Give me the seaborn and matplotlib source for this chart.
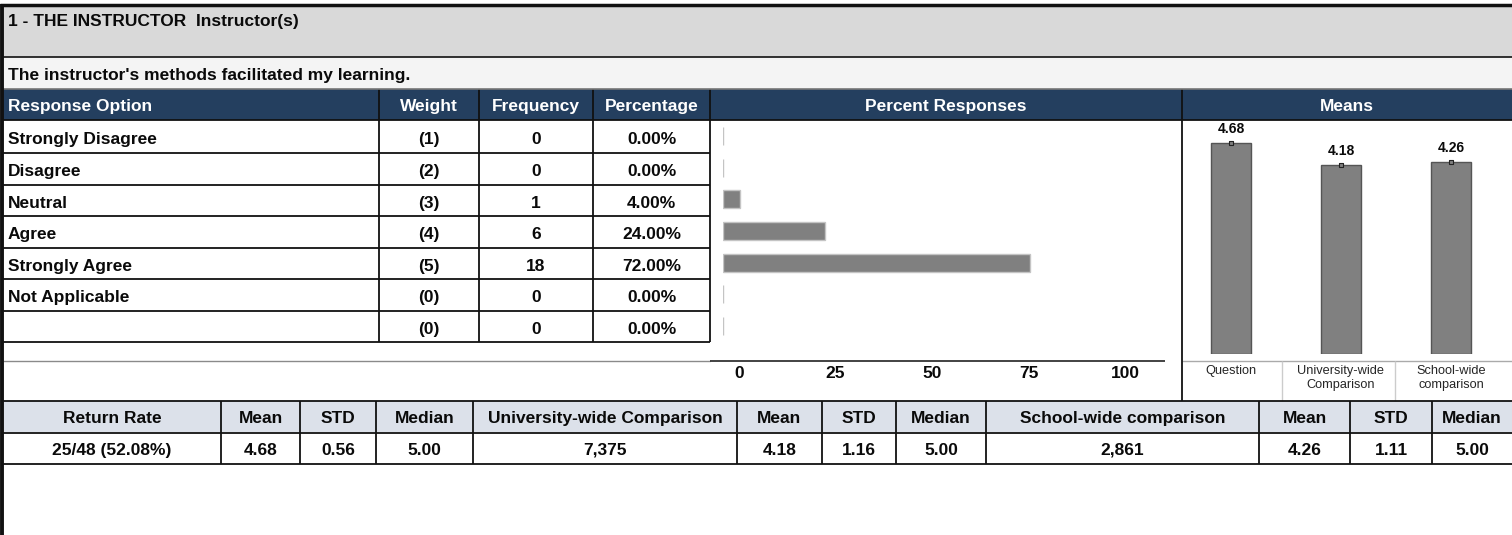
import matplotlib
matplotlib.use("Agg")
import matplotlib.pyplot as plt
import seaborn as sns
import numpy as np

# ---------------- data ----------------
section_title = "1 - THE INSTRUCTOR  Instructor(s)"
question = "The instructor's methods facilitated my learning."
header_labels = ["Response Option", "Weight", "Frequency", "Percentage", "Percent Responses", "Means"]
options = ["Strongly Disagree", "Disagree", "Neutral", "Agree", "Strongly Agree", "Not Applicable", ""]
weights = ["(1)", "(2)", "(3)", "(4)", "(5)", "(0)", "(0)"]
frequency = [0, 0, 1, 6, 18, 0, 0]
percentage = [0.0, 0.0, 4.0, 24.0, 72.0, 0.0, 0.0]
pct_ticks = [0, 25, 50, 75, 100]
mean_groups = ["Question", "University-wide\nComparison", "School-wide\ncomparison"]
means = [4.68, 4.18, 4.26]
summary_headers = ["Return Rate", "Mean", "STD", "Median", "University-wide Comparison",
                   "Mean", "STD", "Median", "School-wide comparison", "Mean", "STD", "Median"]
summary_values = ["25/48 (52.08%)", "4.68", "0.56", "5.00", "7,375",
                  "4.18", "1.16", "5.00", "2,861", "4.26", "1.11", "5.00"]

# ---------------- style ----------------
sns.set_style("white")
plt.rcParams["font.family"] = ["Liberation Sans", "DejaVu Sans"]

W, H = 1512, 535
NAVY = "#243f5f"
BAND = "#d9d9d9"
QROW = "#f4f4f4"
SUMH = "#dce1ea"
BAR = "#808080"
FS = 12.5
BOFF = 6.3  # baseline offset from row centre (px)

fig = plt.figure(figsize=(W / 100, H / 100), dpi=100)
fig.patch.set_facecolor("white")


def rect(x0, y0, x1, y1):
    return [x0 / W, 1 - y1 / H, (x1 - x0) / W, (y1 - y0) / H]


bg = fig.add_axes([0, 0, 1, 1])
bg.set_xlim(0, W)
bg.set_ylim(H, 0)
bg.axis("off")


def fill(x0, y0, x1, y1, c):
    bg.add_patch(plt.Rectangle((x0, y0), x1 - x0, y1 - y0, facecolor=c, edgecolor="none", zorder=0))


def hl(y, x0, x1, c="#111111", lw=1.3):
    bg.plot([x0, x1], [y, y], color=c, lw=lw, solid_capstyle="butt", zorder=2)


def vl(x, y0, y1, c="#111111", lw=1.3):
    bg.plot([x, x], [y0, y1], color=c, lw=lw, solid_capstyle="butt", zorder=2)


def txt(x, yc, s, ha="center", color="#0a0a0a"):
    bg.text(x, yc + BOFF, s, fontsize=FS, fontweight="bold", va="baseline", ha=ha, color=color, zorder=3)


# fills
fill(3, 5, W, 57, BAND)
fill(3, 57, W, 89, QROW)
fill(3, 89, W, 120, NAVY)
fill(3, 401, W, 432, SUMH)

# title rows
txt(8, 20, section_title, ha="left")
txt(8, 74, question, ha="left")

# header row
col_x = [3, 379, 479, 593, 710, 1182, W]
txt(8, 105, header_labels[0], ha="left", color="white")
for i in range(1, 6):
    txt((col_x[i] + col_x[i + 1]) / 2, 105, header_labels[i], color="white")

# response table
row_y = [120, 152.7, 184.5, 216, 247.5, 279, 310.5, 342]
for i, opt in enumerate(options):
    yc = (row_y[i] + row_y[i + 1]) / 2 + 1
    txt(8, yc, opt, ha="left")
    txt((col_x[1] + col_x[2]) / 2, yc, weights[i])
    txt((col_x[2] + col_x[3]) / 2, yc, str(frequency[i]))
    txt((col_x[3] + col_x[4]) / 2, yc, f"{percentage[i]:.2f}%")

for y in row_y[1:]:
    hl(y, 3, 710)
hl(361, 3, 710, c="#8a8a8a", lw=1.0)
hl(361, 710, 1165, c="#222222", lw=1.2)
hl(361, 1182, W, c="#aaaaaa", lw=1.0)
for x in col_x[1:5]:
    vl(x, 89, 342)
vl(1182, 89, 401)
vl(1282, 361, 401, c="#cccccc", lw=1.0)
vl(1395, 361, 401, c="#cccccc", lw=1.0)

# top lines
hl(5, 0, W, lw=2.5)
hl(57, 3, W, c="#222222", lw=1.3)
hl(89, 3, W, c="#777777", lw=1.2)
hl(120, 3, W, c="#111111", lw=1.3)

# summary table
sum_x = [3, 221, 300, 376, 473, 737, 822, 896, 986, 1259, 1350, 1432, W]
for i in range(len(summary_headers)):
    xc = (sum_x[i] + sum_x[i + 1]) / 2
    txt(xc, 417, summary_headers[i])
    txt(xc, 448.5, summary_values[i])
    if i > 0:
        vl(sum_x[i], 401, 464)
hl(401, 3, W)
hl(432.5, 3, W)
hl(464, 3, W)

# outer left border
vl(2, 4, H, lw=2.8)

# ---------------- percent responses bars ----------------
axp = fig.add_axes(rect(723, 120, 1150, 342))
sns.barplot(x=percentage, y=list(range(len(percentage))), orient="h", color=BAR, saturation=1,
            width=0.57, edgecolor="#c4c4c4", linewidth=1.0, ax=axp)
axp.set_xlim(0, 100)
axp.set_ylim(len(percentage) - 0.5, -0.5)
axp.axis("off")
axp.patch.set_alpha(0)

# percent scale labels
axt = fig.add_axes(rect(739, 362, 1125, 363))
axt.set_xlim(0, 100)
axt.set_xticks(pct_ticks)
axt.set_xticklabels([str(t) for t in pct_ticks], fontsize=FS, fontweight="bold", color="#0a0a0a")
axt.set_yticks([])
axt.tick_params(axis="x", length=0, pad=2)
for s in axt.spines.values():
    s.set_visible(False)
axt.patch.set_alpha(0)

# ---------------- means bars ----------------
axm = fig.add_axes(rect(1176, 121, 1506, 354))
sns.barplot(x=mean_groups, y=means, color=BAR, saturation=1, width=0.36,
            edgecolor="#555555", linewidth=1.0, ax=axm)
axm.scatter(range(len(means)), means, marker="s", s=5, facecolor=BAR, edgecolor="#222222",
            linewidths=0.8, zorder=5)
axm.bar_label(axm.containers[0], labels=[f"{m:.2f}" for m in means], padding=5,
              fontsize=10, fontweight="bold", color="#0a0a0a")
axm.set_ylim(0, 5.16)
axm.set_xlim(-0.5, len(means) - 0.5)
axm.set_xticks(range(len(means)))
axm.set_xticklabels(mean_groups, fontsize=9.2, linespacing=1.25)
axm.tick_params(axis="x", length=0, pad=8)
axm.set_yticks([])
axm.set_xlabel("")
axm.set_ylabel("")
for s in axm.spines.values():
    s.set_visible(False)
axm.patch.set_alpha(0)

fig.savefig("out.png", dpi=100)
